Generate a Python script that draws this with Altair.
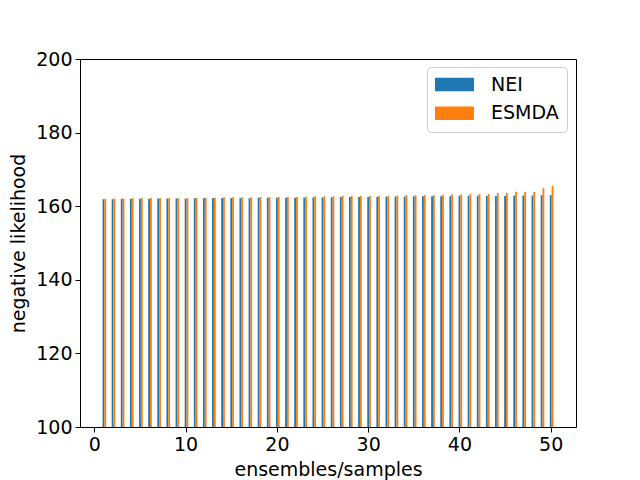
import altair as alt
import pandas as pd

ensembles = list(range(1, 51))
nei = [161.9, 161.9, 162.0, 162.0, 162.0, 162.0,
       162.1, 162.1, 162.1, 162.1, 162.2, 162.2,
       162.2, 162.2, 162.2, 162.2, 162.2, 162.3,
       162.3, 162.3, 162.3, 162.3, 162.3, 162.4,
       162.4, 162.4, 162.5, 162.5, 162.5, 162.5,
       162.5, 162.6, 162.6, 162.6, 162.7, 162.7,
       162.7, 162.7, 162.7, 162.8, 162.8, 162.8,
       162.8, 162.8, 162.8, 162.9, 162.9, 162.9,
       163.0, 163.0]
esmda = [162.0, 162.1, 162.1, 162.2, 162.2, 162.2,
         162.2, 162.2, 162.2, 162.2, 162.2, 162.3,
         162.3, 162.4, 162.4, 162.4, 162.4, 162.5,
         162.5, 162.5, 162.5, 162.5, 162.6, 162.7,
         162.7, 162.7, 162.8, 162.8, 162.8, 162.8,
         162.8, 162.8, 162.9, 163.0, 163.0, 163.0,
         163.0, 163.1, 163.2, 163.2, 163.3, 163.3,
         163.3, 163.6, 163.6, 163.9, 163.9, 163.9,
         164.9, 165.5]
series_names = ["NEI", "ESMDA"]
colors = ["#1f77b4", "#ff7f0e"]
x_ticks = [0, 10, 20, 30, 40, 50]
y_ticks = [100, 120, 140, 160, 180, 200]

rows = []
for i, e in enumerate(ensembles):
    rows.append({"ensemble": e, "series": "NEI", "value": nei[i], "slot": 0})
    rows.append({"ensemble": e, "series": "ESMDA", "value": esmda[i], "slot": 1})
df = pd.DataFrame(rows)

chart = alt.Chart(df).transform_calculate(
    x0="datum.ensemble - 0.1 + datum.slot * 0.2",
    x1="datum.ensemble + 0.1 + datum.slot * 0.2",
    base="100",
).mark_rect().encode(
    x=alt.X("x0:Q",
            scale=alt.Scale(domain=[-1.57, 52.77], nice=False, zero=False),
            axis=alt.Axis(values=x_ticks, title="ensembles/samples", titlePadding=6)),
    x2="x1:Q",
    y=alt.Y("value:Q",
            scale=alt.Scale(domain=[100, 200], nice=False, zero=False),
            axis=alt.Axis(values=y_ticks, title="negative likelihood", titlePadding=7)),
    y2="base:Q",
    color=alt.Color("series:N",
                    scale=alt.Scale(domain=series_names, range=colors),
                    legend=alt.Legend(
                        title=None, orient="none", legendX=347, legendY=8,
                        symbolType="M-1.397,-1H4.338V1H-1.397Z",
                        symbolSize=185, symbolStrokeWidth=0,
                        labelOffset=37, labelFontSize=19, labelFont="DejaVu Sans",
                        labelColor="black", rowPadding=8.7, padding=8,
                        strokeColor="#cccccc", fillColor="rgba(255,255,255,0.8)",
                        cornerRadius=4)),
).properties(
    width=496, height=368,
    autosize=alt.AutoSizeParams(type="none"),
    padding={"left": 72, "top": 51, "right": 56, "bottom": 53},
).configure_view(
    stroke="black", strokeWidth=1
).configure_axis(
    labelFont="DejaVu Sans", labelFontSize=19, labelColor="black",
    titleFont="DejaVu Sans", titleFontSize=19, titleFontWeight="normal", titleColor="black",
    tickColor="black", tickSize=5, tickWidth=1, domain=False, grid=False, labelPadding=3,
)

chart.save("out.html", embed_options={"renderer": "svg", "actions": False})
